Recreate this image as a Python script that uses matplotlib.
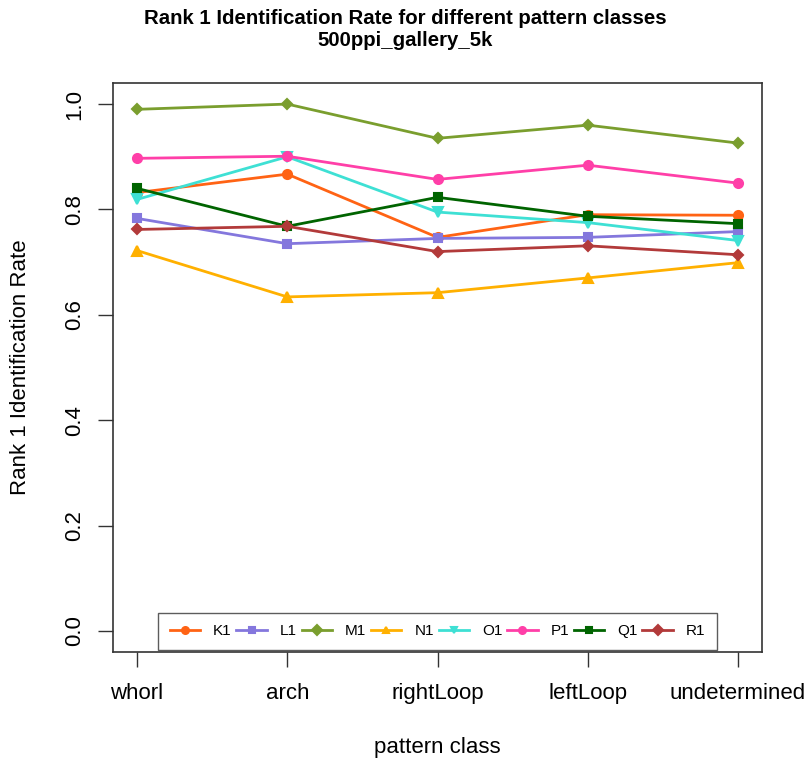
import matplotlib
matplotlib.use("Agg")
import matplotlib.pyplot as plt

plt.rcParams['font.family'] = ['Liberation Sans', 'DejaVu Sans']

categories = ["whorl", "arch", "rightLoop", "leftLoop", "undetermined"]
series_names = ["K1", "L1", "M1", "N1", "O1", "P1", "Q1", "R1"]
K1 = [0.832, 0.867, 0.747, 0.790, 0.789]
L1 = [0.783, 0.735, 0.745, 0.747, 0.758]
M1 = [0.990, 1.000, 0.935, 0.960, 0.926]
N1 = [0.722, 0.634, 0.642, 0.670, 0.699]
O1 = [0.819, 0.900, 0.795, 0.775, 0.741]
P1 = [0.897, 0.901, 0.857, 0.884, 0.850]
Q1 = [0.840, 0.768, 0.823, 0.787, 0.773]
R1 = [0.762, 0.768, 0.720, 0.731, 0.714]
yticks = [0.0, 0.2, 0.4, 0.6, 0.8, 1.0]

values = [K1, L1, M1, N1, O1, P1, Q1, R1]
colors = ['#FF6314', '#8477DD', '#7A9E2E', '#FFB000', '#3EE0D4', '#FF3FA8', '#006400', '#B23A3A']
markers = ['o', 's', 'D', '^', 'v', 'o', 's', 'D']
msizes = [6.5, 6, 5.5, 7.5, 7.5, 6.5, 6, 5.5]

fig = plt.figure(figsize=(8.11, 7.63), dpi=100)
ax = fig.add_axes([113/811, 1-652/763, (762-113)/811, (652-83)/763])

x = list(range(1, len(categories)+1))
for name, vals, c, m, ms in zip(series_names, values, colors, markers, msizes):
    ax.plot(x, vals, color=c, marker=m, markersize=ms, linewidth=2.0,
            markeredgewidth=1.5, markeredgecolor=c, markerfacecolor=c, label=name)

ax.set_xlim(0.84, 5.16)
ax.set_ylim(-0.04, 1.04)
ax.set_xticks(x)
ax.set_xticklabels(categories, fontsize=16)
ax.set_yticks(yticks)
ax.set_yticklabels([f"{t:.1f}" for t in yticks], fontsize=16, rotation=90, va='center')
ax.tick_params(axis='both', length=11, width=1, direction='out', color='#333333')
ax.tick_params(axis='x', pad=11)
ax.tick_params(axis='y', pad=9)
for s in ax.spines.values():
    s.set_color('#333333')
    s.set_linewidth(1.2)

ax.set_xlabel("pattern class", fontsize=16, labelpad=24)
ax.set_ylabel("Rank 1 Identification Rate", fontsize=16, labelpad=0)
ax.yaxis.set_label_coords(-(113-31)/649, 0.5)

fig.text(0.5, 1-18/763, "Rank 1 Identification Rate for different pattern classes",
         ha='center', va='center', fontsize=14.7, fontweight='bold')
fig.text(0.5, 1-41/763, "500ppi_gallery_5k",
         ha='center', va='center', fontsize=14.7, fontweight='bold')

leg = ax.legend(loc='lower center', bbox_to_anchor=(0.5, 0.0), ncol=8, fontsize=11,
                frameon=True, fancybox=False, edgecolor='#333333', borderaxespad=0.15,
                handlelength=2.0, columnspacing=0.3, handletextpad=0.85, borderpad=0.75)
leg.get_frame().set_linewidth(1.0)
for h in leg.legend_handles:
    h.set_markersize(5)

fig.savefig("out.png", dpi=100)
